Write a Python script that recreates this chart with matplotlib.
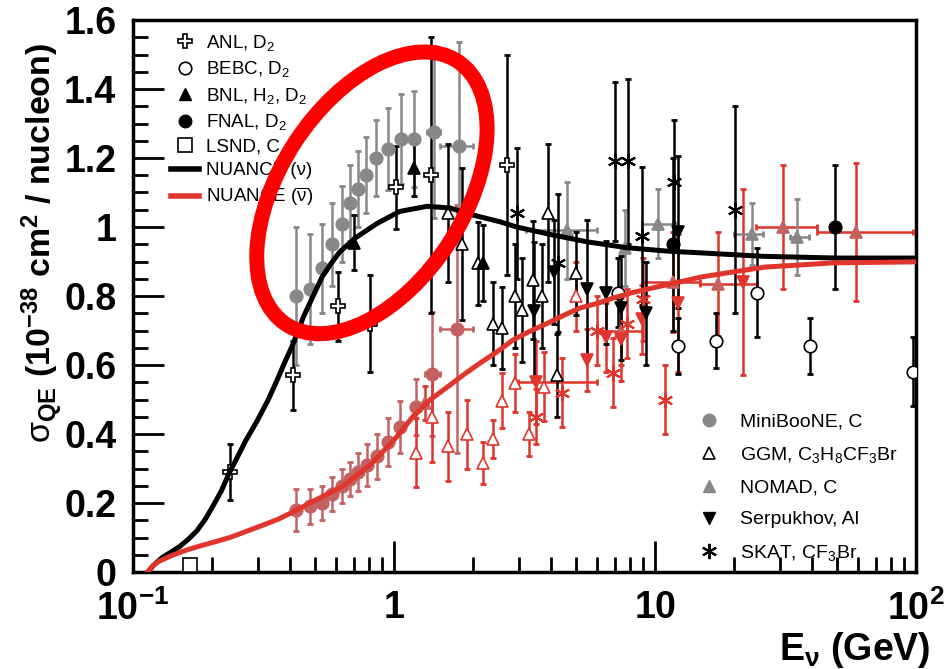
import numpy as np
import matplotlib.pyplot as plt
from matplotlib.lines import Line2D
from matplotlib.patches import Ellipse
from matplotlib import transforms

plt.rcParams['font.family'] = ['Liberation Sans', 'DejaVu Sans']
plt.rcParams['mathtext.fontset'] = 'custom'
plt.rcParams['mathtext.rm'] = 'Liberation Sans'
plt.rcParams['mathtext.it'] = 'Liberation Sans:italic'
plt.rcParams['mathtext.bf'] = 'Liberation Sans:bold'

# NUANCE predictions
nuance_nu_E = [0.114, 0.12, 0.13, 0.14, 0.151, 0.163, 0.176, 0.19, 0.202, 0.218, 0.233, 0.25,
               0.27, 0.30, 0.33, 0.356, 0.38, 0.41, 0.45, 0.49, 0.53, 0.575, 0.62, 0.71, 0.86,
               1.05, 1.34, 1.64, 2.0, 2.55, 2.95, 4.05, 5.5, 7.8, 11.2, 15, 26, 50, 100]
nuance_nu_s = [0.0, 0.02, 0.043, 0.058, 0.074, 0.095, 0.12, 0.155, 0.19, 0.235, 0.285, 0.33,
               0.38, 0.44, 0.50, 0.555, 0.605, 0.66, 0.74, 0.80, 0.855, 0.895, 0.928, 0.968,
               1.01, 1.045, 1.06, 1.055, 1.035, 1.015, 1.0, 0.977, 0.957, 0.94, 0.93, 0.925,
               0.915, 0.91, 0.91]
nuance_nub_E = [0.114, 0.118, 0.125, 0.138, 0.155, 0.176, 0.205, 0.235, 0.27, 0.315, 0.36, 0.40,
                0.45, 0.505, 0.57, 0.64, 0.72, 0.81, 0.91, 1.02, 1.18, 1.38, 1.6, 1.85, 2.14,
                2.5, 2.85, 3.3, 3.85, 4.5, 5.15, 6.1, 6.9, 8.2, 10, 12, 15, 20, 26.5, 36, 48,
                100]
nuance_nub_s = [0.0, 0.015, 0.03, 0.045, 0.06, 0.073, 0.087, 0.10, 0.117, 0.136, 0.153, 0.17,
                0.19, 0.21, 0.23, 0.25, 0.28, 0.31, 0.35, 0.39, 0.45, 0.50, 0.536, 0.572, 0.606,
                0.64, 0.672, 0.697, 0.72, 0.745, 0.765, 0.78, 0.794, 0.81, 0.825, 0.838, 0.855,
                0.87, 0.884, 0.89, 0.896, 0.899]

# neutrino data
anl_E = [0.235, 0.41, 0.61, 0.81, 1.02, 1.39, 2.7]
anl_s = [0.29, 0.57, 0.77, 0.72, 1.115, 1.15, 1.18]
anl_err = [0.08, 0.10, 0.10, 0.14, 0.12, 0.40, 0.32]

bebc_E = [7.2, 12.3, 17.2, 24.6, 39.4, 97]
bebc_s = [0.81, 0.655, 0.67, 0.81, 0.655, 0.58]
bebc_err = [0.10, 0.08, 0.08, 0.13, 0.08, 0.10]

bnl_E = [0.70, 1.19, 2.2]
bnl_s = [0.955, 1.17, 0.896]
bnl_err = [0.08, 0.08, 0.11]

fnal_E = [11.7, 49]
fnal_s = [0.95, 1.0]
fnal_err = [0.25, 0.18]

lsnd_E = [0.165]
lsnd_s = [0.02]

mb_nu_E = [0.42, 0.477, 0.53, 0.58, 0.63, 0.68, 0.73, 0.78, 0.85, 0.95, 1.06, 1.19, 1.42, 1.77]
mb_nu_s = [0.80, 0.82, 0.88, 0.95, 1.01, 1.07, 1.11, 1.15, 1.20, 1.226, 1.255, 1.255, 1.275, 1.235]
mb_nu_err = [0.20, 0.16, 0.13, 0.12, 0.11, 0.11, 0.11, 0.11, 0.11, 0.12, 0.13, 0.14, 0.25, 0.30]
mb_nu_lo = [0.42, 0.477, 0.53, 0.58, 0.63, 0.68, 0.73, 0.78, 0.85, 0.95, 1.06, 1.19, 1.34, 1.50]
mb_nu_hi = [0.42, 0.477, 0.53, 0.58, 0.63, 0.68, 0.73, 0.78, 0.85, 0.95, 1.06, 1.19, 1.50, 2.00]

ggm_nu_E = [1.61, 1.83, 2.1, 2.4, 2.6, 2.9, 3.1, 3.4, 3.7, 3.9, 4.2, 5.0]
ggm_nu_s = [1.04, 0.95, 0.895, 0.72, 0.707, 0.80, 0.76, 0.846, 0.80, 1.04, 0.57, 0.866]
ggm_nu_err = [0.20, 0.22, 0.12, 0.12, 0.12, 0.15, 0.15, 0.17, 0.15, 0.20, 0.12, 0.12]

nomad_nu_E = [4.6, 7.7, 10.3, 23.5, 35]
nomad_nu_s = [0.99, 0.94, 1.01, 0.98, 0.97]
nomad_nu_err = [0.14, 0.11, 0.10, 0.09, 0.11]
nomad_nu_lo = [3.2, 7.7, 8.9, 20, 33]
nomad_nu_hi = [6.0, 7.7, 11.9, 26, 39]

serp_nu_E = [3.45, 4.1, 5.5, 6.5, 7.4, 9.2, 12.3]
serp_nu_s = [0.757, 0.87, 0.82, 0.81, 0.765, 0.75, 0.985]
serp_nu_err = [0.20, 0.15, 0.20, 0.15, 0.15, 0.15, 0.22]

skat_nu_E = [2.95, 4.25, 7.0, 7.9, 8.9, 11.8, 20.2]
skat_nu_s = [1.04, 0.895, 1.19, 1.19, 0.974, 1.13, 1.05]
skat_nu_err = [0.19, 0.20, 0.23, 0.24, 0.20, 0.18, 0.30]

# antineutrino data
mb_nub_E = [0.42, 0.477, 0.53, 0.58, 0.63, 0.68, 0.73, 0.79, 0.86, 0.95, 1.05, 1.21, 1.40, 1.75]
mb_nub_s = [0.18, 0.19, 0.20, 0.226, 0.25, 0.27, 0.29, 0.31, 0.336, 0.377, 0.42, 0.478, 0.574, 0.705]
mb_nub_err = [0.06, 0.05, 0.05, 0.05, 0.05, 0.05, 0.055, 0.06, 0.065, 0.07, 0.075, 0.08, 0.18, 0.36]
mb_nub_lo = [0.42, 0.477, 0.53, 0.58, 0.63, 0.68, 0.73, 0.79, 0.86, 0.95, 1.05, 1.21, 1.32, 1.50]
mb_nub_hi = [0.42, 0.477, 0.53, 0.58, 0.63, 0.68, 0.73, 0.79, 0.86, 0.95, 1.05, 1.21, 1.50, 2.00]

ggm_nub_E = [1.21, 1.40, 1.61, 1.9, 2.2, 2.4, 2.6, 2.9, 3.3, 3.75, 5.0]
ggm_nub_s = [0.345, 0.45, 0.365, 0.40, 0.316, 0.385, 0.496, 0.548, 0.40, 0.537, 0.80]
ggm_nub_err = [0.10, 0.13, 0.10, 0.10, 0.06, 0.055, 0.08, 0.085, 0.065, 0.10, 0.10]

nomad_nub_E = [1.32, 7.4, 11.7, 17.5, 31, 59]
nomad_nub_s = [0.49, 0.70, 0.84, 0.835, 1.0, 0.985]
nomad_nub_err = [0.05, 0.10, 0.145, 0.15, 0.18, 0.20]
nomad_nub_lo = [1.32, 6.1, 9.0, 14.9, 24.3, 41.9]
nomad_nub_hi = [1.32, 8.9, 14.9, 24.6, 41.9, 97]

serp_nub_E = [3.5, 5.5, 6.5, 7.4, 8.9, 12.2, 21.8]
serp_nub_s = [0.55, 0.614, 0.68, 0.675, 0.733, 0.78, 0.84]
serp_nub_err = [0.12, 0.09, 0.10, 0.12, 0.10, 0.20, 0.27]
serp_nub_lo = [2.98, 5.5, 6.5, 7.4, 8.9, 12.2, 21.8]
serp_nub_hi = [6.0, 5.5, 6.5, 7.4, 8.9, 12.2, 21.8]

skat_nub_E = [3.5, 4.4, 6.0, 6.9, 7.8, 9.0, 10.9]
skat_nub_s = [0.45, 0.52, 0.70, 0.577, 0.72, 0.79, 0.50]
skat_nub_err = [0.08, 0.10, 0.10, 0.10, 0.10, 0.12, 0.10]

RED = '#e0352c'
ROSE = '#c46262'
GRAY = '#888888'
ASTER = (6, 2, 0)

fig = plt.figure(figsize=(9.45, 6.69), dpi=100)
ax = fig.add_axes([133 / 945, 97 / 669, 783 / 945, 552 / 669])
ax.set_xscale('log')
ax.set_xlim(0.1, 100)
ax.set_ylim(0, 1.6)


def draw(E, s, err, color, marker, mfc, mec, ms=9, lo=None, hi=None, mew=1.2):
    E = np.array(E)
    s = np.array(s)
    if lo is not None:
        lo = np.array(lo)
        hi = np.array(hi)
        m = (hi - lo) > 0
        ax.errorbar(E[m], s[m], xerr=[E[m] - lo[m], hi[m] - E[m]], fmt='none', ecolor=color,
                    elinewidth=1.8, capsize=2.5, capthick=2, zorder=3)
    ax.errorbar(E, s, yerr=err, fmt='none', ecolor=color, elinewidth=1.8, capsize=2.5,
                capthick=2, zorder=3)
    ax.plot(E, s, ls='none', marker=marker, mfc=mfc, mec=mec, ms=ms, mew=mew, zorder=4)


# antineutrino (red) data
draw(mb_nub_E, mb_nub_s, mb_nub_err, ROSE, 'o', ROSE, ROSE, lo=mb_nub_lo, hi=mb_nub_hi)
draw(ggm_nub_E, ggm_nub_s, ggm_nub_err, RED, '^', 'white', RED, ms=9)
draw(nomad_nub_E, nomad_nub_s, nomad_nub_err, RED, '^', ROSE, ROSE, ms=9,
     lo=nomad_nub_lo, hi=nomad_nub_hi)
draw(serp_nub_E, serp_nub_s, serp_nub_err, RED, 'v', RED, RED, ms=9,
     lo=serp_nub_lo, hi=serp_nub_hi)
draw(skat_nub_E, skat_nub_s, skat_nub_err, RED, ASTER, RED, RED, ms=11, mew=1.5)

# neutrino (black / grey) data
draw(mb_nu_E, mb_nu_s, mb_nu_err, GRAY, 'o', GRAY, GRAY, lo=mb_nu_lo, hi=mb_nu_hi)
draw(nomad_nu_E, nomad_nu_s, nomad_nu_err, GRAY, '^', GRAY, GRAY, ms=9,
     lo=nomad_nu_lo, hi=nomad_nu_hi)
draw(ggm_nu_E, ggm_nu_s, ggm_nu_err, 'black', '^', 'white', 'black', ms=9)
draw(serp_nu_E, serp_nu_s, serp_nu_err, 'black', 'v', 'black', 'black', ms=9)
draw(skat_nu_E, skat_nu_s, skat_nu_err, 'black', ASTER, 'black', 'black', ms=11, mew=1.5)
draw(anl_E, anl_s, anl_err, 'black', 'P', 'white', 'black', ms=10)
draw(bebc_E, bebc_s, bebc_err, 'black', 'o', 'white', 'black', ms=9)
draw(bnl_E, bnl_s, bnl_err, 'black', '^', 'black', 'black', ms=9)
draw(fnal_E, fnal_s, fnal_err, 'black', 'o', 'black', 'black', ms=9)
ax.plot(lsnd_E, lsnd_s, ls='none', marker='s', mfc='white', mec='black', ms=10, mew=1.2, zorder=4)

# NUANCE curves
ax.plot(nuance_nu_E, nuance_nu_s, color='black', lw=3.6, zorder=5, solid_joinstyle='round')
ax.plot(nuance_nub_E, nuance_nub_s, color=RED, lw=3.6, zorder=5, solid_joinstyle='round')

# axes styling
ax.set_xticks([0.1, 1, 10, 100])
ax.set_xticklabels([r'$\mathbf{10^{-1}}$', r'$\mathbf{1}$', r'$\mathbf{10}$', r'$\mathbf{10^{2}}$'])
yt = np.arange(0, 1.61, 0.2)
ax.set_yticks(yt)
ax.set_yticklabels(['%g' % round(v, 1) for v in yt], fontweight='bold')
ax.yaxis.set_minor_locator(plt.MultipleLocator(0.05))
ax.tick_params(which='both', direction='in', top=False, right=False, width=2)
ax.tick_params(which='major', length=22, labelsize=27)
ax.tick_params(which='minor', length=11)
ax.tick_params(axis='x', pad=13)
ax.tick_params(axis='y', pad=12)
for sp in ax.spines.values():
    sp.set_linewidth(2.5)

fig.text(931 / 945, 1 - 650 / 669, r'$\mathbf{E_{\nu}}$ (GeV)', ha='right', va='center',
         fontsize=27, fontweight='bold')
fig.text(43 / 945, 1 - 243 / 669,
         r'$\mathrm{\sigma}_{\mathbf{QE}}$ (10$^{\mathbf{-38}}$ cm$^{\mathbf{2}}$ / nucleon)',
         rotation=90, ha='center', va='center', fontsize=24.5, fontweight='bold')

# legends
h1 = [
    Line2D([], [], ls='none', marker='P', mfc='white', mec='black', ms=10, mew=1.2),
    Line2D([], [], ls='none', marker='o', mfc='white', mec='black', ms=9, mew=1.2),
    Line2D([], [], ls='none', marker='^', mfc='black', mec='black', ms=9),
    Line2D([], [], ls='none', marker='o', mfc='black', mec='black', ms=9),
    Line2D([], [], ls='none', marker='s', mfc='white', mec='black', ms=10, mew=1.2),
    Line2D([], [], color='black', lw=4),
    Line2D([], [], color=RED, lw=4),
]
l1 = ['ANL, D$_2$', 'BEBC, D$_2$', 'BNL, H$_2$, D$_2$', 'FNAL, D$_2$', 'LSND, C',
      'NUANCE (ν)', r'NUANCE ($\overline{\mathrm{\nu}}$)']
leg1 = ax.legend(h1, l1, loc='upper left', bbox_to_anchor=(171 / 945, 1 - 33 / 669),
                 bbox_transform=fig.transFigure, frameon=False, fontsize=13.5,
                 handlelength=1.5, handletextpad=0.35, labelspacing=0.34, borderpad=0,
                 borderaxespad=0)
ax.add_artist(leg1)

h2 = [
    Line2D([], [], ls='none', marker='o', mfc=GRAY, mec=GRAY, ms=9),
    Line2D([], [], ls='none', marker='^', mfc='white', mec='black', ms=9, mew=1.2),
    Line2D([], [], ls='none', marker='^', mfc=GRAY, mec=GRAY, ms=9),
    Line2D([], [], ls='none', marker='v', mfc='black', mec='black', ms=9),
    Line2D([], [], ls='none', marker=ASTER, mfc='black', mec='black', ms=11, mew=1.5),
]
l2 = ['MiniBooNE, C', 'GGM, C$_3$H$_8$CF$_3$Br', 'NOMAD, C', 'Serpukhov, Al', 'SKAT, CF$_3$Br']
ax.legend(h2, l2, loc='upper left', bbox_to_anchor=(697 / 945, 1 - 413 / 669),
          bbox_transform=fig.transFigure, frameon=False, fontsize=14,
          handlelength=1.2, handletextpad=1.0, labelspacing=0.73, borderpad=0,
          borderaxespad=0)

# highlight ellipse, anchored at a data point, sized in inches
ell_trans = fig.dpi_scale_trans + transforms.ScaledTranslation(0.823, 1.099, ax.transData)
ell = Ellipse((0, 0), 3.14, 1.84, angle=57, fill=False, edgecolor='#ff0000', lw=10.8,
              transform=ell_trans, zorder=10, clip_on=False)
ax.add_artist(ell)

fig.savefig('out.png', dpi=100)
